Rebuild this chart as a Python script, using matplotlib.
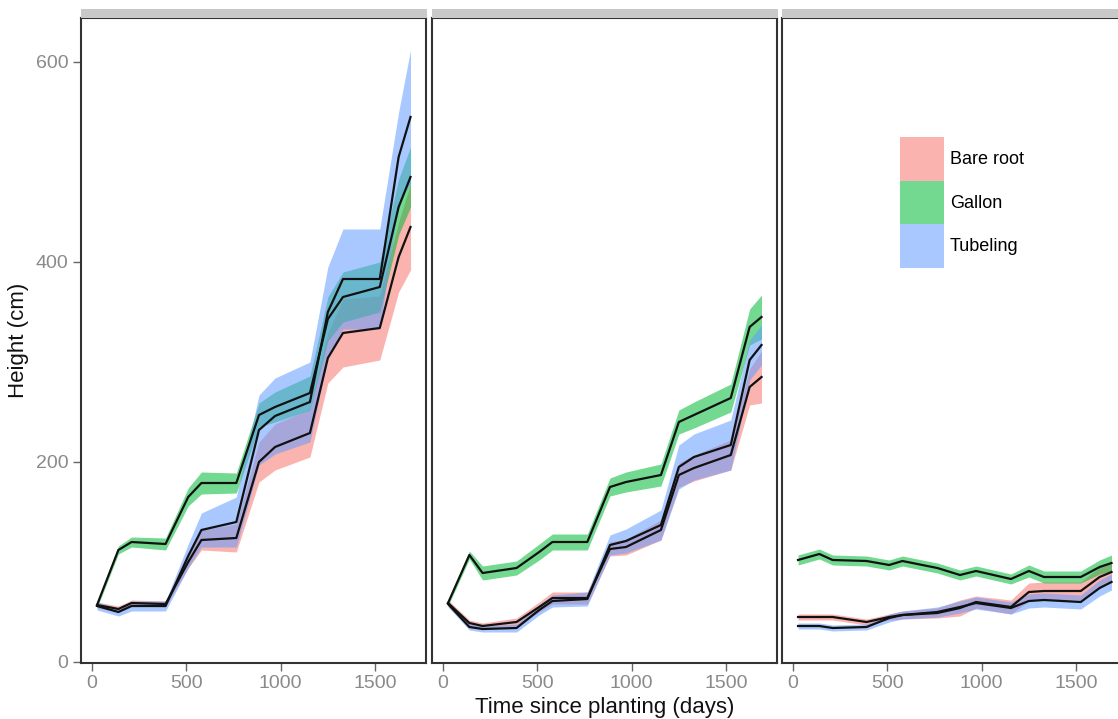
import matplotlib
matplotlib.use('Agg')
import matplotlib.pyplot as plt
from matplotlib.patches import Patch

plt.rcParams['font.family'] = ['Liberation Sans', 'DejaVu Sans']

# days since planting (same survey dates in every panel)
days = [27, 140, 210, 390, 510, 580, 765, 885, 970, 1155, 1250, 1330, 1525, 1625, 1688]

names = ['Bare root', 'Gallon', 'Tubeling']
colors = ['#F8766D', '#00BA38', '#619CFF']

# panel 1
bare1 = [57, 53, 59, 58, 100, 122, 124, 200, 215, 229, 304, 329, 334, 405, 435]
bare1_se = [3, 3, 3, 3, 6, 10, 14, 20, 23, 24, 25, 34, 32, 35, 43]
gallon1 = [57, 112, 120, 118, 165, 179, 179, 247, 255, 269, 343, 365, 375, 455, 485]
gallon1_se = [3, 4, 5, 6, 9, 11, 10, 12, 15, 17, 22, 25, 25, 28, 30]
tube1 = [56, 50, 56, 56, 106, 132, 140, 232, 246, 260, 350, 383, 383, 505, 545]
tube1_se = [4, 4, 5, 5, 12, 17, 25, 35, 38, 40, 45, 50, 50, 45, 67]

# panel 2
bare2 = [59, 39, 36, 40, 55, 64, 64, 113, 115, 132, 187, 194, 207, 275, 285]
bare2_se = [3, 3, 3, 4, 5, 6, 6, 7, 8, 10, 12, 13, 15, 18, 26]
gallon2 = [59, 107, 89, 94, 110, 120, 120, 175, 180, 187, 240, 247, 264, 335, 345]
gallon2_se = [3, 4, 7, 7, 8, 8, 8, 9, 10, 11, 12, 13, 14, 18, 22]
tube2 = [58, 35, 33, 34, 52, 61, 63, 117, 121, 137, 195, 205, 217, 302, 317]
tube2_se = [3, 3, 3, 4, 5, 6, 7, 10, 12, 15, 22, 23, 25, 20, 20]

# panel 3
bare3 = [45, 45, 45, 40, 45, 47, 49, 54, 60, 55, 70, 71, 71, 85, 90]
bare3_se = [3, 3, 3, 3, 3, 4, 5, 8, 6, 7, 9, 9, 9, 10, 10]
gallon3 = [102, 108, 102, 101, 97, 101, 94, 87, 91, 83, 91, 85, 85, 95, 99]
gallon3_se = [5, 5, 5, 5, 5, 5, 5, 5, 5, 5, 6, 6, 6, 7, 8]
tube3 = [36, 36, 34, 35, 44, 47, 50, 55, 59, 54, 61, 62, 60, 74, 80]
tube3_se = [3, 3, 3, 3, 4, 4, 5, 6, 6, 6, 7, 7, 7, 8, 8]

panels = [
    [(bare1, bare1_se), (gallon1, gallon1_se), (tube1, tube1_se)],
    [(bare2, bare2_se), (gallon2, gallon2_se), (tube2, tube2_se)],
    [(bare3, bare3_se), (gallon3, gallon3_se), (tube3, tube3_se)],
]

W, H = 1118, 719
fig = plt.figure(figsize=(W / 100, H / 100), dpi=100)

lefts = [81, 432, 782]
pw = 345
top, bottom = 18, 663
alpha = 0.55

axes = []
for i, left in enumerate(lefts):
    ax = fig.add_axes([left / W, 1 - bottom / H, pw / W, (bottom - top) / H])
    # grey facet strip (text cut off in the original)
    strip = fig.add_axes([left / W, 1 - top / H, (pw + 1) / W, 9 / H])
    strip.set_facecolor('#c9c9c9')
    strip.set_xticks([])
    strip.set_yticks([])
    for s in strip.spines.values():
        s.set_visible(False)

    series = panels[i]
    # ribbons first, then the lines on top (like ggplot layers)
    for (m, se), c in zip(series, colors):
        lo = [a - b for a, b in zip(m, se)]
        hi = [a + b for a, b in zip(m, se)]
        ax.fill_between(days, lo, hi, color=c, alpha=alpha, linewidth=0)
    for (m, se), c in zip(series, colors):
        ax.plot(days, m, color='#111111', lw=1.6)

    ax.set_xlim(-58, 1770)
    ax.set_ylim(-1, 644)
    ax.set_xticks([0, 500, 1000, 1500])
    ax.set_yticks([0, 200, 400, 600])
    ax.tick_params(colors='#666666', labelcolor='#8a8a8a', labelsize=14,
                   length=5.5, width=1, pad=3.5)
    if i > 0:
        ax.tick_params(axis='y', left=False, labelleft=False)
    for s in ax.spines.values():
        s.set_color('#333333')
        s.set_linewidth(1.5)
    axes.append(ax)

axes[0].set_ylabel('Height (cm)', fontsize=16, color='#111111', labelpad=5)
axes[1].set_xlabel('Time since planting (days)', fontsize=16, color='#111111', labelpad=3)

handles = [Patch(facecolor=c, alpha=alpha, edgecolor='none') for c in colors]
axes[2].legend(handles, names, loc='upper left',
               bbox_to_anchor=(900 / W, 1 - 137 / H), bbox_transform=fig.transFigure,
               frameon=False, fontsize=13, handlelength=2.45, handleheight=3.35,
               labelspacing=0, handletextpad=0.3, borderpad=0, borderaxespad=0)

fig.savefig('out.png', dpi=100)
